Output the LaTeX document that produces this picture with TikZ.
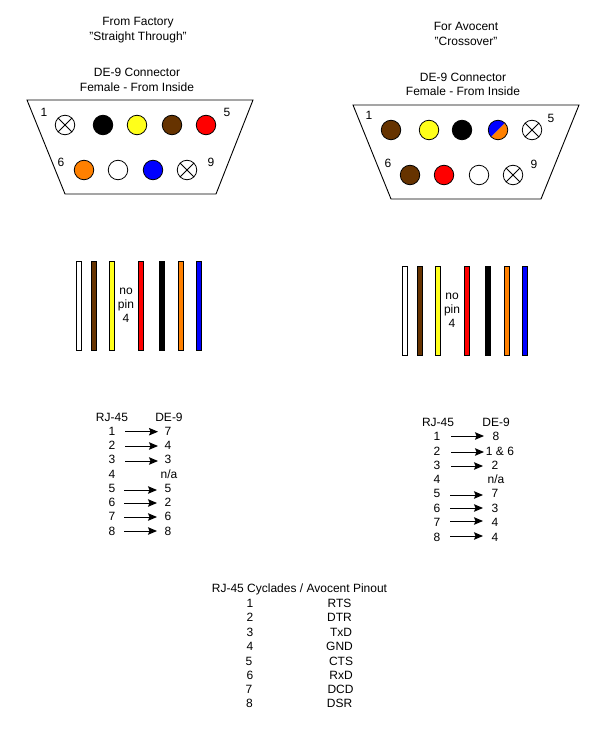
\documentclass[tikz,border=0pt]{standalone}
\usepackage{fontspec}
\setmainfont{Liberation Sans}
\usetikzlibrary{arrows.meta}
\definecolor{wirebrown}{HTML}{663300}
\definecolor{wireorange}{HTML}{FF8000}
\definecolor{wireyellow}{HTML}{FFFF1A}
\tikzset{
    lbl/.style={font=\fontsize{12}{14}\selectfont, inner sep=0pt, text height=8.6pt, text depth=0pt},
    pin/.style={circle, draw=black, line width=0.8pt, minimum size=19.5pt, inner sep=0pt},
    nopin/.style={pin, fill=white, path picture={
        \draw[line width=0.8pt] (path picture bounding box.north west) -- (path picture bounding box.south east);
        \draw[line width=0.8pt] (path picture bounding box.north east) -- (path picture bounding box.south west);}},
    splitpin/.style={pin, path picture={
        \fill[blue] (path picture bounding box.south west) -- (path picture bounding box.north west) -- (path picture bounding box.north east) -- cycle;
        \fill[wireorange] (path picture bounding box.south west) -- (path picture bounding box.south east) -- (path picture bounding box.north east) -- cycle;}},
    shell/.style={draw=black, line width=0.9pt},
    wire/.style={draw=black, line width=1pt},
    pinarrow/.style={-{Stealth[length=9pt,width=7.5pt,inset=1.5pt]}, black, line width=0.9pt},
}
\begin{document}
\begin{tikzpicture}[x=1pt,y=-1pt]
        \useasboundingbox (0,0) rectangle (607,735);

        % left titles
        \node[lbl] (lefttitlea) at (138,21) {From Factory};
        \node[lbl] (lefttitleb) at (138,36) {"Straight Through"};
        \node[lbl] (leftconna) at (137,72) {DE-9 Connector};
        \node[lbl] (leftconnb) at (137,87) {Female - From Inside};

        % right titles
        \node[lbl] (righttitlea) at (466,26) {For Avocent};
        \node[lbl] (righttitleb) at (466,41) {"Crossover"};
        \node[lbl] (rightconna) at (463,77) {DE-9 Connector};
        \node[lbl] (rightconnb) at (463,91) {Female - From Inside};

        % left connector
        \draw[shell] (27,100) -- (253,100) -- (216,194) -- (65,194) -- cycle;
        %% top row
        \node[nopin] (lp1) at (65,125) {};
        \node[pin, fill=black] (lp2) at (103,125) {};
        \node[pin, fill=wireyellow] (lp3) at (137,125) {};
        \node[pin, fill=wirebrown] (lp4) at (172,125) {};
        \node[pin, fill=red] (lp5) at (206,125) {};
        %% bottom row
        \node[pin, fill=wireorange] (lp6) at (84,170) {};
        \node[pin, fill=white] (lp7) at (118,170) {};
        \node[pin, fill=blue] (lp8) at (153,170) {};
        \node[nopin] (lp9) at (187,170) {};
        %% pin numbers
        \node[lbl] (lnum1) at (44,112) {1};
        \node[lbl] (lnum5) at (227,112) {5};
        \node[lbl] (lnum6) at (61,162) {6};
        \node[lbl] (lnum9) at (211,162) {9};

        % right connector
        \draw[shell] (353,105) -- (579,105) -- (541,199) -- (391,199) -- cycle;
        %% top row
        \node[pin, fill=wirebrown] (rp1) at (391,130) {};
        \node[pin, fill=wireyellow] (rp2) at (429,130) {};
        \node[pin, fill=black] (rp3) at (462,130) {};
        \node[splitpin] (rp4) at (498,130) {};
        \node[nopin] (rp5) at (532,130) {};
        %% bottom row
        \node[pin, fill=wirebrown] (rp6) at (410,175) {};
        \node[pin, fill=red] (rp7) at (444,175) {};
        \node[pin, fill=white] (rp8) at (479,175) {};
        \node[nopin] (rp9) at (513,175) {};
        %% pin numbers
        \node[lbl] (rnum1) at (369,115) {1};
        \node[lbl] (rnum5) at (551,118) {5};
        \node[lbl] (rnum6) at (388,163) {6};
        \node[lbl] (rnum9) at (534,164) {9};

        % left wires
        \filldraw[wire, fill=white] (76.5,261.5) rectangle (81,350);
        \filldraw[wire, fill=wirebrown] (91.5,261.5) rectangle (96,350);
        \filldraw[wire, fill=wireyellow] (109.5,261.5) rectangle (114,350);
        \filldraw[wire, fill=red] (138.5,261.5) rectangle (143,350);
        \filldraw[wire, fill=black] (159.5,261.5) rectangle (164,350);
        \filldraw[wire, fill=wireorange] (178.5,261.5) rectangle (183,350);
        \filldraw[wire, fill=blue] (196.5,261.5) rectangle (201,350);
        \node[lbl] (lnoa) at (126,290) {no};
        \node[lbl] (lnob) at (126,304) {pin};
        \node[lbl] (lnoc) at (126,318) {4};

        % right wires
        \filldraw[wire, fill=white] (402.5,266.5) rectangle (407,355);
        \filldraw[wire, fill=wirebrown] (417.5,266.5) rectangle (422,355);
        \filldraw[wire, fill=wireyellow] (435.5,266.5) rectangle (440,355);
        \filldraw[wire, fill=red] (464.5,266.5) rectangle (469,355);
        \filldraw[wire, fill=black] (485.5,266.5) rectangle (490,355);
        \filldraw[wire, fill=wireorange] (504.5,266.5) rectangle (509,355);
        \filldraw[wire, fill=blue] (522.5,266.5) rectangle (527,355);
        \node[lbl] (rnoa) at (452,295) {no};
        \node[lbl] (rnob) at (452,309) {pin};
        \node[lbl] (rnoc) at (452,323) {4};

        % left table
        \node[lbl] (lhead) at (112,417) {RJ-45};
        \node[lbl] (lheadb) at (169,417) {DE-9};
        \node[lbl] (la1) at (112,431) {1};
        \node[lbl] (la2) at (112,445) {2};
        \node[lbl] (la3) at (112,459) {3};
        \node[lbl] (la4) at (112,474) {4};
        \node[lbl] (la5) at (112,488) {5};
        \node[lbl] (la6) at (112,502) {6};
        \node[lbl] (la7) at (112,516) {7};
        \node[lbl] (la8) at (112,531) {8};
        \node[lbl] (lb1) at (168,431) {7};
        \node[lbl] (lb2) at (168,445) {4};
        \node[lbl] (lb3) at (168,459) {3};
        \node[lbl] (lb4) at (169,474) {n/a};
        \node[lbl] (lb5) at (168,488) {5};
        \node[lbl] (lb6) at (168,502) {2};
        \node[lbl] (lb7) at (168,516) {6};
        \node[lbl] (lb8) at (168,531) {8};
        %% arrows
        \draw[pinarrow, shorten <=13pt, shorten >=10pt] ([yshift=-0.7pt]la1.center) -- ([yshift=-0.7pt]lb1.center);
        \draw[pinarrow, shorten <=13pt, shorten >=10pt] ([yshift=-1pt]la2.center) -- ([yshift=-1pt]lb2.center);
        \draw[pinarrow, shorten <=13pt, shorten >=10pt] ([yshift=-2pt]la3.center) -- ([yshift=-2pt]lb3.center);
        \draw[pinarrow, shorten <=12pt, shorten >=11pt] ([yshift=-2pt]la5.center) -- ([yshift=-2pt]lb5.center);
        \draw[pinarrow, shorten <=12pt, shorten >=11pt] ([yshift=-1pt]la6.center) -- ([yshift=-1pt]lb6.center);
        \draw[pinarrow, shorten <=12pt, shorten >=11pt] ([yshift=-1pt]la7.center) -- ([yshift=-1pt]lb7.center);
        \draw[pinarrow, shorten <=12pt, shorten >=11pt] (la8.center) -- (lb8.center);

        % right table
        \node[lbl] (rhead) at (438,422) {RJ-45};
        \node[lbl] (rheadb) at (496,422) {DE-9};
        \node[lbl] (ra1) at (437,436) {1};
        \node[lbl] (ra2) at (437,451) {2};
        \node[lbl] (ra3) at (437,465) {3};
        \node[lbl] (ra4) at (437,479) {4};
        \node[lbl] (ra5) at (437,493) {5};
        \node[lbl] (ra6) at (437,508) {6};
        \node[lbl] (ra7) at (437,522) {7};
        \node[lbl] (ra8) at (437,537) {8};
        \node[lbl] (rb1) at (496,436) {8};
        \node[lbl] (rb2) at (500,451) {1 \& 6};
        \node[lbl] (rb3) at (495,465) {2};
        \node[lbl] (rb4) at (496,479) {n/a};
        \node[lbl] (rb5) at (495,493) {7};
        \node[lbl] (rb6) at (495,508) {3};
        \node[lbl] (rb7) at (495,522) {4};
        \node[lbl] (rb8) at (495,537) {4};
        %% arrows
        \draw[pinarrow, shorten <=14pt, shorten >=12pt] (ra1.center) -- (rb1.center);
        \draw[pinarrow, shorten <=14pt, shorten >=16pt] ([yshift=-1pt]ra2.center) -- ([yshift=-1pt]rb2.center);
        \draw[pinarrow, shorten <=14pt, shorten >=12pt] ([yshift=-1pt]ra3.center) -- ([yshift=-1pt]rb3.center);
        \draw[pinarrow, shorten <=13pt, shorten >=12pt] ([yshift=-2pt]ra5.center) -- ([yshift=-2pt]rb5.center);
        \draw[pinarrow, shorten <=13pt, shorten >=12pt] (ra6.center) -- (rb6.center);
        \draw[pinarrow, shorten <=13pt, shorten >=12pt] ([yshift=1pt]ra7.center) -- ([yshift=1pt]rb7.center);
        \draw[pinarrow, shorten <=13pt, shorten >=12pt] ([yshift=1pt]ra8.center) -- ([yshift=1pt]rb8.center);

        % pinout table
        \node[lbl] (pinhead) at (299.5,588) {RJ-45 Cyclades / Avocent Pinout};
        \node[lbl] (pina1) at (250,603) {1};
        \node[lbl] (pina2) at (250,617) {2};
        \node[lbl] (pina3) at (250,632) {3};
        \node[lbl] (pina4) at (250,646) {4};
        \node[lbl] (pina5) at (249,661) {5};
        \node[lbl] (pina6) at (250,675) {6};
        \node[lbl] (pina7) at (249,689) {7};
        \node[lbl] (pina8) at (249.5,703) {8};
        \node[lbl] (pinb1) at (339.5,603) {RTS};
        \node[lbl] (pinb2) at (339.5,617) {DTR};
        \node[lbl] (pinb3) at (341,632) {TxD};
        \node[lbl] (pinb4) at (339.5,646) {GND};
        \node[lbl] (pinb5) at (341,661) {CTS};
        \node[lbl] (pinb6) at (341,675) {RxD};
        \node[lbl] (pinb7) at (340.5,689) {DCD};
        \node[lbl] (pinb8) at (339.5,703) {DSR};
\end{tikzpicture}
\end{document}
